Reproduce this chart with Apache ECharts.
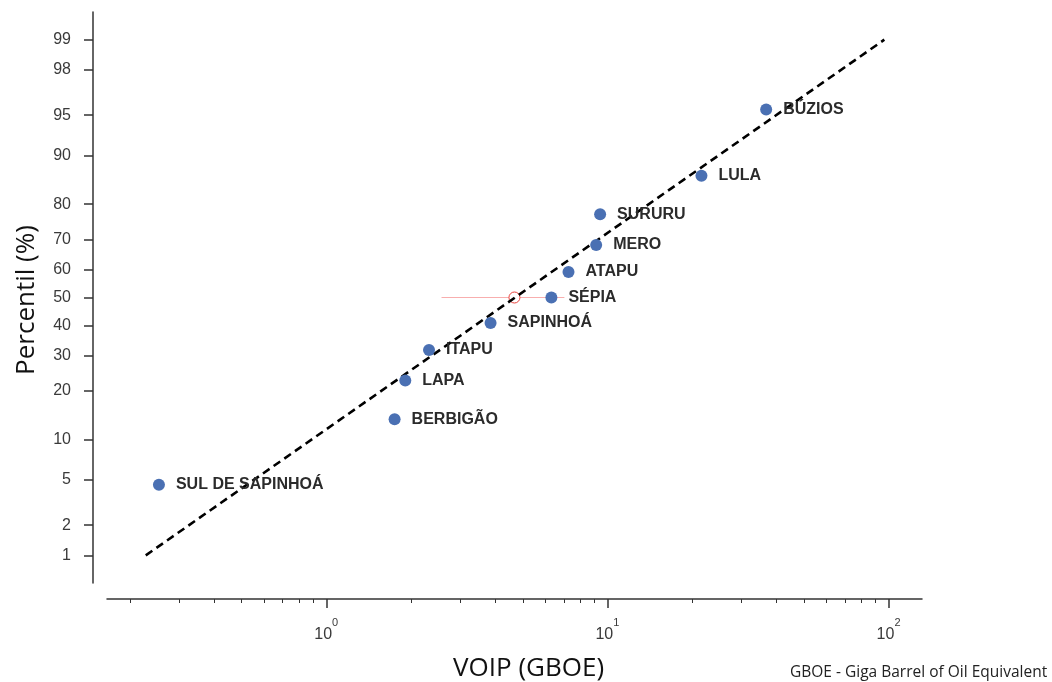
<!DOCTYPE html>
<html>
<head>
<meta charset="utf-8">
<script src="https://cdn.jsdelivr.net/npm/echarts@6/dist/echarts.min.js"></script>
<style>
  html, body { margin: 0; padding: 0; background: #fff; }
  #main { width: 1052px; height: 682px; }
</style>
</head>
<body>
<div id="main"></div>
<script>
// campos e valores
const fields = ["SUL DE SAPINHOÁ", "BERBIGÃO", "LAPA", "ITAPU", "SAPINHOÁ", "SÉPIA", "ATAPU", "MERO", "SURURU", "LULA", "BÚZIOS"];
const voip = [0.254, 1.75, 1.91, 2.32, 3.84, 6.32, 7.27, 9.12, 9.42, 21.6, 36.7];
const percentil = [4.55, 13.6, 22.7, 31.8, 40.9, 50.0, 59.1, 68.2, 77.4, 86.4, 95.5];

// linha de ajuste (tracejada) - extremos
const fitVoip = [0.228, 96.6];
const fitPct = [1, 99];

// P50 (círculo vermelho) e faixa rosa
const p50Voip = [4.67];
const p50Pct = [50];
const rangeVoip = [2.57, 7.03];
const rangePct = [50, 50];

const yTicks = [1, 2, 5, 10, 20, 30, 40, 50, 60, 70, 80, 90, 95, 98, 99];
const xMajor = [1, 10, 100];
const xMinor = [0.2, 0.3, 0.4, 0.5, 0.6, 0.7, 0.8, 0.9,
  2, 3, 4, 5, 6, 7, 8, 9, 20, 30, 40, 50, 60, 70, 80, 90];

// inversa da normal (Acklam) -> escala de probabilidade
function probit(p) {
  const a = [-3.969683028665376e+01, 2.209460984245205e+02, -2.759285104469687e+02, 1.383577518672690e+02, -3.066479806614716e+01, 2.506628277459239e+00];
  const b = [-5.447609879822406e+01, 1.615858368580409e+02, -1.556989798598866e+02, 6.680131188771972e+01, -1.328068155288572e+01];
  const c = [-7.784894002430293e-03, -3.223964580411365e-01, -2.400758277161838e+00, -2.549732539343734e+00, 4.374664141464968e+00, 2.938163982698783e+00];
  const d = [7.784695709041462e-03, 3.224671290700398e-01, 2.445134137142996e+00, 3.754408661907416e+00];
  const pl = 0.02425;
  let q, r;
  if (p < pl) {
    q = Math.sqrt(-2 * Math.log(p));
    return (((((c[0]*q+c[1])*q+c[2])*q+c[3])*q+c[4])*q+c[5]) / ((((d[0]*q+d[1])*q+d[2])*q+d[3])*q+1);
  }
  if (p > 1 - pl) {
    q = Math.sqrt(-2 * Math.log(1 - p));
    return -(((((c[0]*q+c[1])*q+c[2])*q+c[3])*q+c[4])*q+c[5]) / ((((d[0]*q+d[1])*q+d[2])*q+d[3])*q+1);
  }
  q = p - 0.5; r = q * q;
  return (((((a[0]*r+a[1])*r+a[2])*r+a[3])*r+a[4])*r+a[5])*q / (((((b[0]*r+b[1])*r+b[2])*r+b[3])*r+b[4])*r+1);
}
const z = (pct) => probit(pct / 100);
const pairs = (xs, ps) => xs.map((x, i) => [x, z(ps[i])]);

const yTickZ = yTicks.map(z);
const axisColor = "#333";
const xMin = 0.166, xMax = 131.5;

let chart = echarts.init(document.getElementById("main"));
let option = {
  animation: false,
  grid: { left: 107, right: 130, top: 12, bottom: 99 },
  xAxis: [
    {
      type: "log",
      position: "bottom",
      min: xMin,
      max: xMax,
      offset: 16,
      axisLine: { onZero: false, lineStyle: { color: axisColor, width: 1.5 } },
      axisTick: { show: true, customValues: xMajor, length: 9, lineStyle: { color: axisColor, width: 1.5 } },
      splitLine: { show: false },
      axisLabel: {
        customValues: xMajor,
        margin: 18,
        formatter: (v) => "{b|10}{s|" + Math.round(Math.log10(v)) + "}",
        rich: {
          b: { fontSize: 16, color: "#3a3a3a", fontFamily: "Liberation Sans", lineHeight: 26, verticalAlign: "bottom" },
          s: { fontSize: 11, color: "#3a3a3a", fontFamily: "Liberation Sans", lineHeight: 26, verticalAlign: "top" },
        },
      },
    },
    {
      // ticks menores
      type: "log",
      position: "bottom",
      min: xMin,
      max: xMax,
      offset: 16,
      axisLine: { show: true, onZero: false, lineStyle: { color: axisColor, width: 0, opacity: 0 } },
      axisTick: { show: true, customValues: xMinor, length: 4, lineStyle: { color: axisColor, width: 1 } },
      axisLabel: { show: false },
      splitLine: { show: false },
    },
  ],
  yAxis: {
    type: "value",
    min: z(0.5),
    max: z(99.5),
    offset: 14,
    axisLine: { show: true, onZero: false, lineStyle: { color: axisColor, width: 1.5 } },
    axisTick: { show: true, customValues: yTickZ, length: 9, lineStyle: { color: axisColor, width: 1.5 } },
    splitLine: { show: false },
    axisLabel: {
      customValues: yTickZ,
      margin: 22,
      fontSize: 16,
      color: "#3a3a3a",
      fontFamily: "Liberation Sans",
      formatter: (v) => {
        let best = 0;
        yTickZ.forEach((t, i) => { if (Math.abs(t - v) < Math.abs(yTickZ[best] - v)) best = i; });
        return String(yTicks[best]);
      },
    },
  },
  graphic: [
    {
      type: "text",
      left: 453, top: 656,
      style: { text: "VOIP (GBOE)", fontSize: 26, fontFamily: "Open Sans", fill: "#111" },
    },
    {
      type: "text",
      x: 27, y: 300, rotation: Math.PI / 2,
      style: { text: "Percentil (%)", fontSize: 26, fontFamily: "Open Sans", fill: "#111", align: "center", verticalAlign: "middle" },
    },
    {
      type: "text",
      left: 790, top: 665,
      style: { text: "GBOE - Giga Barrel of Oil Equivalent", fontSize: 15.5, fontFamily: "Open Sans", fill: "#222" },
    },
  ],
  series: [
    {
      type: "line",
      data: pairs(rangeVoip, rangePct),
      symbol: "none",
      lineStyle: { color: "#f58c8c", width: 1, opacity: 0.7 },
      z: 1,
    },
    {
      type: "scatter",
      data: pairs(p50Voip, p50Pct),
      symbol: "circle",
      symbolSize: 11,
      itemStyle: { color: "#fff", borderColor: "#e8403a", borderWidth: 1, opacity: 1 },
      z: 2,
    },
    {
      type: "line",
      data: pairs(fitVoip, fitPct),
      symbol: "none",
      lineStyle: { color: "#000", width: 2.6, type: [8, 5] },
      z: 3,
    },
    {
      type: "scatter",
      data: pairs(voip, percentil),
      symbol: "circle",
      symbolSize: 12,
      itemStyle: { color: "#4a70b3", opacity: 1 },
      label: {
        show: true,
        position: "right",
        distance: 11,
        formatter: (p) => fields[p.dataIndex],
        fontFamily: "Liberation Sans",
        fontWeight: "bold",
        fontSize: 16,
        color: "#2b2b2b",
      },
      z: 4,
    },
  ],
};
chart.setOption(option);
</script>
</body>
</html>
